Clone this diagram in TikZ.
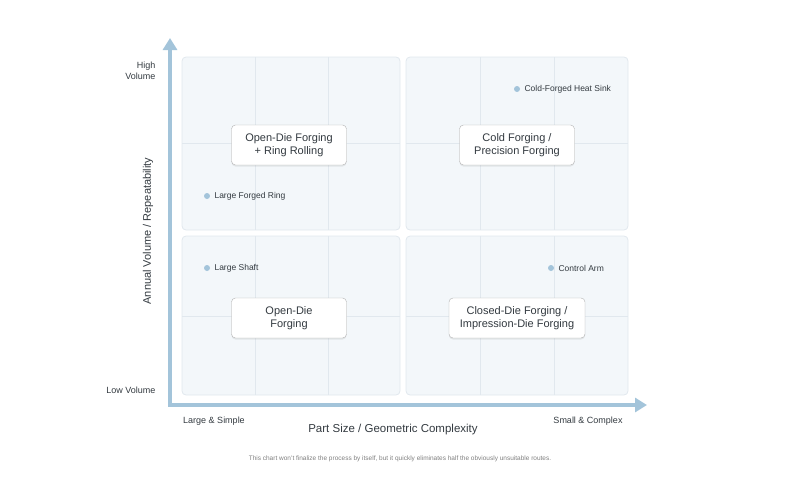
\documentclass[tikz,border=0pt]{standalone}
\usepackage{fontspec}
\setmainfont{Liberation Sans}
\usetikzlibrary{arrows.meta,shadows}
\definecolor{axis}{HTML}{A3C4DA}
\definecolor{quad}{HTML}{F3F7FA}
\definecolor{quadline}{HTML}{E1E8EE}
\definecolor{txt}{HTML}{333A40}
\begin{document}
\begin{tikzpicture}[x=1pt,y=-1pt,
  quadrant/.style={draw=quadline,fill=quad,rounded corners=4pt,line width=0.8pt},
  grid/.style={draw=quadline,line width=0.8pt},
  proc/.style={draw=gray!60,fill=white,rounded corners=4pt,align=center,font=\fontsize{11}{13}\selectfont,text=txt,minimum height=40pt,inner xsep=8pt,drop shadow={opacity=0.15,shadow xshift=0pt,shadow yshift=-1.5pt}},
  dot/.style={circle,fill=axis,inner sep=0pt,minimum size=6pt},
  plab/.style={font=\fontsize{8.5}{10}\selectfont,text=txt,anchor=west},
  lab/.style={font=\fontsize{9}{11}\selectfont,text=txt},
  ax/.style={draw=axis,line width=4pt,-{Triangle[length=12pt,width=14pt]}}]
\useasboundingbox (0,0) rectangle (800,482);
% quadrants
\draw[quadrant] (182,57) rectangle (400,230);
\draw[quadrant] (406,57) rectangle (628,230);
\draw[quadrant] (182,236) rectangle (400,395);
\draw[quadrant] (406,236) rectangle (628,395);
\foreach \xa/\xb/\xc/\ya/\yb/\ym in {182/255/328/57/230/143, 406/480/554/57/230/143, 182/255/328/236/395/316, 406/480/554/236/395/316}{
  \draw[grid] (\xb,\ya) -- (\xb,\yb);
  \draw[grid] (\xc,\ya) -- (\xc,\yb);
}
\foreach \xa/\xb/\ym in {182/400/143, 406/628/143, 182/400/316, 406/628/316}{
  \draw[grid] (\xa,\ym) -- (\xb,\ym);
}
% axes
\coordinate (o) at (170,405);
\coordinate (ytip) at (170,38);
\coordinate (xtip) at (647,405);
\draw[ax] (o) -- (ytip);
\draw[ax] ([xshift=-2pt]o) -- (xtip);
% boxes
\node[proc,minimum width=115pt] (tl) at (289,145) {Open-Die Forging\\+ Ring Rolling};
\node[proc,minimum width=115pt] (tr) at (517,145) {Cold Forging /\\Precision Forging};
\node[proc,minimum width=115pt] (bl) at (289,318) {Open-Die\\Forging};
\node[proc,minimum width=136pt] (br) at (517,318) {Closed-Die Forging /\\Impression-Die Forging};
% points
\node[dot] (d1) at (517,89) {}; \node[plab] (l1) at (521,89) {Cold-Forged Heat Sink};
\node[dot] (d2) at (207,196) {}; \node[plab] (l2) at (211,196) {Large Forged Ring};
\node[dot] (d3) at (207,268) {}; \node[plab] (l3) at (211,268) {Large Shaft};
\node[dot] (d4) at (551,268) {}; \node[plab] (l4) at (555,268) {Control Arm};
% axis labels
\node[lab,align=right,anchor=east] (hv) at (159,71) {High\\Volume};
\node[lab,anchor=east] (lv) at (159,390) {Low Volume};
\node[lab,rotate=90,font=\fontsize{11}{13}\selectfont] (yt) at (148,231) {Annual Volume / Repeatability};
\node[lab] (ls) at (214,421) {Large \& Simple};
\node[lab] (sc) at (588,421) {Small \& Complex};
\node[lab,font=\fontsize{11.5}{13}\selectfont] (xt) at (393,430) {Part Size / Geometric Complexity};
\node[font=\fontsize{6.5}{8}\selectfont,text=gray] (fn) at (400,459) {This chart won't finalize the process by itself, but it quickly eliminates half the obviously unsuitable routes.};
\end{tikzpicture}
\end{document}
